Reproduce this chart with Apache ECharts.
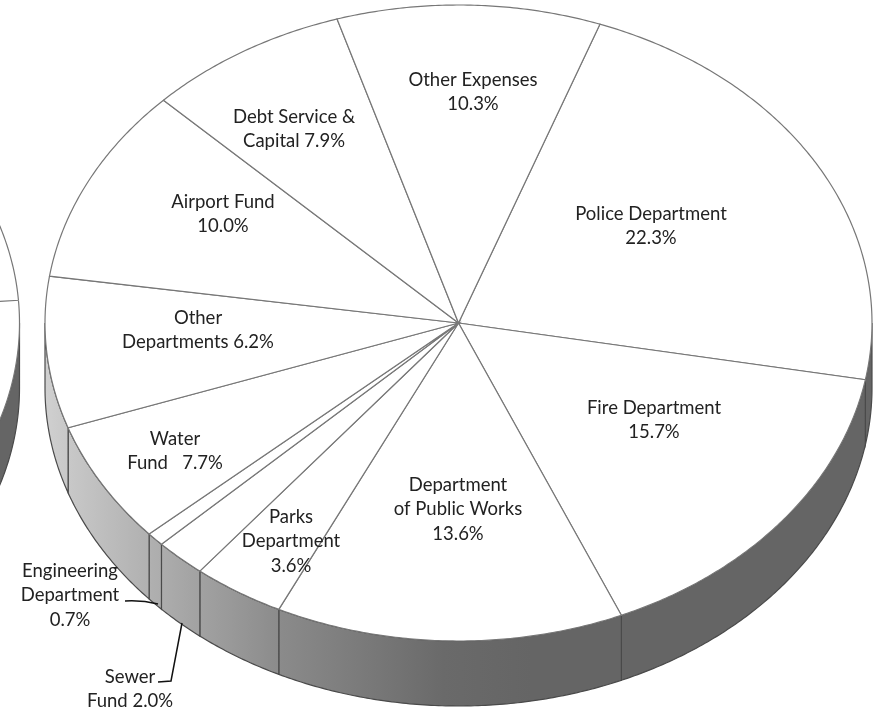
<!DOCTYPE html>
<html>
<head>
<meta charset="utf-8">
<title>Budget pie</title>
<script src="https://cdn.jsdelivr.net/npm/echarts@6/dist/echarts.min.js"></script>
<style>
  html, body { margin: 0; padding: 0; background: #fff; }
  #chart { width: 886px; height: 713px; }
</style>
</head>
<body>
<div id="chart"></div>
<script>
// Slice sizes as measured from the spokes, clockwise from the Police slice.
// The picture's "Water" and "Other Departments" captions sit on slices of the opposite size.
const sliceShares = [22.3, 15.7, 13.6, 3.6, 2.0, 0.7, 6.2, 7.7, 10.0, 7.9, 10.3];
// The neighbouring pie only shows one spoke at the page's left edge
const neighbourShares = [100];

const labelLines = [
  ['Police Department', '22.3%'],
  ['Fire Department', '15.7%'],
  ['Department', 'of Public Works', '13.6%'],
  ['Parks', 'Department', '3.6%'],
  ['Sewer', 'Fund 2.0%'],
  ['Engineering', 'Department', '0.7%'],
  ['Water', 'Fund   7.7%'],
  ['Other', 'Departments 6.2%'],
  ['Airport Fund', '10.0%'],
  ['Debt Service &', 'Capital 7.9%'],
  ['Other Expenses', '10.3%']
];

// Label centres, first line y and line step
const labelX = [651, 654, 458, 291, 130, 70, 175, 198, 223, 294, 473];
const labelY = [214, 408, 485, 517, 677, 571, 439, 318, 202, 117, 80];
const lineStep = 24.5;

// Tilted disc geometry
const main = { cx: 458.5, cy: 323, rx: 413.5, ry: 318, start: 20 };
const neighbour = { cx: -394, cy: 323, rx: 413.5, ry: 318, start: 85.9 };
const depth = 65;

const wallFill = new echarts.graphic.LinearGradient(0, 0, 886, 0, [
  { offset: 0, color: '#e0e0e0' },
  { offset: 0.07, color: '#cacaca' },
  { offset: 0.2, color: '#a8a8a8' },
  { offset: 0.32, color: '#8a8a8a' },
  { offset: 0.5, color: '#6a6a6a' },
  { offset: 0.6, color: '#656565' },
  { offset: 1, color: '#656565' }
], true);
const neighbourWallFill = '#656565';

function rimPoint(pie, deg, drop) {
  const a = deg * Math.PI / 180;
  return [pie.cx + pie.rx * Math.sin(a), pie.cy - pie.ry * Math.cos(a) + drop];
}

function arcPoints(pie, from, to, drop) {
  const pts = [];
  const steps = Math.max(2, Math.ceil((to - from) * 2));
  for (let i = 0; i <= steps; i++) {
    pts.push(rimPoint(pie, from + (to - from) * i / steps, drop));
  }
  return pts;
}

function sliceRange(pie, shares, index) {
  let sum = 0;
  for (let i = 0; i < index; i++) sum += shares[i];
  return [pie.start + sum * 3.6, pie.start + (sum + shares[index]) * 3.6];
}

function wallRenderer(pie, shares, fill) {
  return function (params) {
    const range = sliceRange(pie, shares, params.dataIndex);
    const from = Math.max(range[0], 90);
    const to = Math.min(range[1], 270);
    if (to <= from) return { type: 'group', children: [] };
    const top = arcPoints(pie, from, to, 0);
    const bottom = arcPoints(pie, from, to, depth).reverse();
    return {
      type: 'polygon',
      shape: { points: top.concat(bottom) },
      style: { fill: fill, stroke: '#4a4a4a', lineWidth: 1.2 }
    };
  };
}

function topRenderer(pie, shares) {
  return function (params) {
    const range = sliceRange(pie, shares, params.dataIndex);
    return {
      type: 'polygon',
      shape: { points: [[pie.cx, pie.cy]].concat(arcPoints(pie, range[0], range[1], 0)) },
      style: { fill: '#fff', stroke: '#777', lineWidth: 1.2 }
    };
  };
}

function renderLabel(params) {
  const i = params.dataIndex;
  return {
    type: 'group',
    children: labelLines[i].map((line, n) => ({
      type: 'text',
      style: {
        x: labelX[i],
        y: labelY[i] + n * lineStep,
        text: line,
        fill: '#222',
        font: '18.5px Lato, sans-serif',
        align: 'center',
        verticalAlign: 'middle'
      }
    }))
  };
}

// Leader lines for the two captions outside the pie
function renderLeaders() {
  const line = { stroke: '#111', lineWidth: 1.5, fill: null };
  return {
    type: 'group',
    children: [
      { type: 'bezierCurve', shape: { x1: 125, y1: 601, cpx1: 142, cpy1: 600, x2: 158, y2: 604 }, style: line },
      { type: 'polyline', shape: { points: [[158, 682], [171, 681], [182, 623]] }, style: line }
    ]
  };
}

function customSeries(count, renderItem, z) {
  return {
    type: 'custom',
    coordinateSystem: 'none',
    silent: true,
    animation: false,
    clip: false,
    z: z,
    data: Array.from({ length: count }, (_, i) => i),
    renderItem: renderItem
  };
}

const myChart = echarts.init(document.getElementById('chart'), null, { renderer: 'canvas' });
myChart.setOption({
  backgroundColor: '#fff',
  animation: false,
  series: [
    customSeries(neighbourShares.length, wallRenderer(neighbour, neighbourShares, neighbourWallFill), 1),
    customSeries(neighbourShares.length, topRenderer(neighbour, neighbourShares), 2),
    customSeries(sliceShares.length, wallRenderer(main, sliceShares, wallFill), 3),
    customSeries(sliceShares.length, topRenderer(main, sliceShares), 4),
    customSeries(labelLines.length, renderLabel, 5),
    customSeries(1, renderLeaders, 6)
  ]
});
</script>
</body>
</html>
